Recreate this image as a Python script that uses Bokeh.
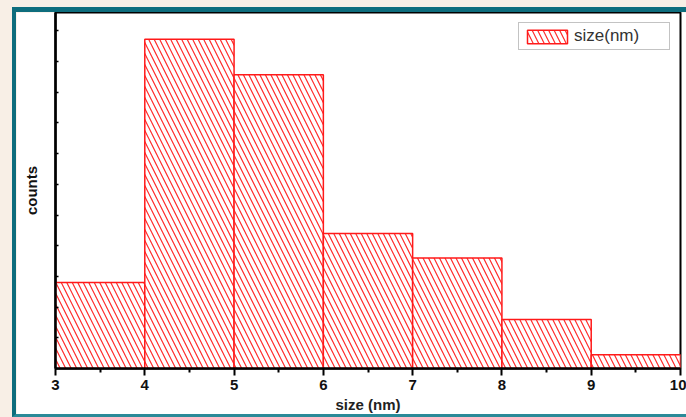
from bokeh.plotting import figure
from bokeh.layouts import column
from bokeh.models import FixedTicker, Range1d
from bokeh.embed import file_html
from bokeh.resources import INLINE

# data (histogram of particle size)
edges = [3, 4, 5, 6, 7, 8, 9, 10]
counts = [28, 107.3, 95.7, 44, 36, 16, 4.5]
xticks = [3, 4, 5, 6, 7, 8, 9, 10]
yticks = [10, 20, 30, 40, 50, 60, 70, 80, 90, 100, 110]

TEAL = "#0e6d7d"
BEIGE = "#f8efe6"

p = figure(frame_width=621, frame_height=348, output_backend="svg", toolbar_location=None,
           x_range=Range1d(3, 10), y_range=Range1d(0, 116),
           min_border_left=39, min_border_right=10, min_border_top=0, min_border_bottom=54,
           styles={"box-sizing": "content-box",
                   "border-top": "5px solid " + TEAL, "border-left": "4px solid " + TEAL,
                   "border-bottom": "3px solid #2a8a98"})
p.border_fill_color = "white"
p.background_fill_color = "white"
p.outline_line_color = "black"
p.outline_line_width = 2
p.grid.visible = False

p.quad(left=edges[:-1], right=edges[1:], top=counts, bottom=0,
       fill_color="white", line_color="#ff1a1a", line_width=1.5,
       hatch_pattern="\\", hatch_color="#ff2a2a", hatch_weight=1.2, hatch_scale=11,
       legend_label="size(nm)")

xa = p.xaxis[0]
xa.ticker = FixedTicker(ticks=xticks, minor_ticks=[x + 0.5 for x in xticks[:-1]])
xa.axis_line_width = 2.5
xa.major_tick_line_width = 2
xa.minor_tick_line_width = 2
xa.major_tick_out = 7
xa.major_tick_in = 0
xa.minor_tick_out = 4
xa.minor_tick_in = 0
xa.major_label_standoff = 4
xa.major_label_text_font = "Liberation Sans"
xa.major_label_text_font_style = "bold"
xa.major_label_text_font_size = "15px"
xa.major_label_text_color = "#111111"
xa.axis_label = "size (nm)"
xa.axis_label_text_font = "Liberation Sans"
xa.axis_label_text_font_style = "bold"
xa.axis_label_text_font_size = "15px"
xa.axis_label_text_color = "#222222"
xa.axis_label_standoff = 3

ya = p.yaxis[0]
ya.ticker = FixedTicker(ticks=yticks)
ya.axis_line_width = 2.5
ya.major_tick_in = 3
ya.major_tick_out = 0
ya.major_tick_line_width = 1.5
ya.minor_tick_line_color = None
ya.major_label_overrides = {t: "" for t in yticks}
ya.major_label_standoff = 0
ya.axis_label = "counts"
ya.axis_label_text_font = "Liberation Sans"
ya.axis_label_text_font_style = "bold"
ya.axis_label_text_font_size = "15px"
ya.axis_label_text_color = "#111111"
ya.axis_label_standoff = 16

lg = p.legend[0]
lg.location = "top_right"
lg.margin = 10
lg.padding = 3
lg.spacing = 0
lg.glyph_width = 50
lg.glyph_height = 17
lg.label_height = 17
lg.label_width = 92
lg.label_standoff = 2
lg.label_text_font = "Liberation Sans"
lg.label_text_font_size = "17px"
lg.label_text_color = "#333333"
lg.border_line_color = "#888888"
lg.border_line_width = 1.5
lg.background_fill_color = "white"
lg.background_fill_alpha = 1

page = column(p, width=686, height=417,
              styles={"background-color": BEIGE, "padding-top": "7px", "padding-left": "12px",
                      "box-sizing": "border-box", "overflow": "hidden"})

open("out.html", "w").write(file_html(page, INLINE))
